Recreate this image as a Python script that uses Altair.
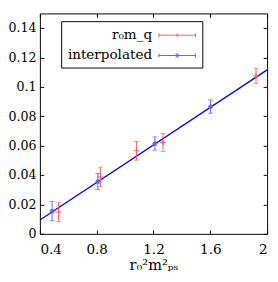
import altair as alt
import pandas as pd

SERIF = "DejaVu Serif"
RED = "#ff5c5c"
BLUE = "#6060ff"
LINE = "#0000ff"

names = ["r₀m_q", "interpolated"]
red_x = [0.531, 0.826, 1.081, 1.267, 1.922]
red_y = [0.0148, 0.0387, 0.0565, 0.0622, 0.1074]
red_err = [0.0064, 0.0067, 0.0063, 0.0061, 0.0051]
blue_x = [0.486, 0.808, 1.21, 1.602]
blue_y = [0.0155, 0.0356, 0.0615, 0.0866]
blue_err = [0.0065, 0.0055, 0.0045, 0.0045]
fit_x = [0.4, 2.0]
fit_y = [0.0095, 0.1116]
x_ticks = [0.4, 0.8, 1.2, 1.6, 2.0]
y_ticks = [0, 0.02, 0.04, 0.06, 0.08, 0.1, 0.12, 0.14]

W, H = 235, 228

red_df = pd.DataFrame({"x": red_x, "y": red_y,
                       "lo": [a - b for a, b in zip(red_y, red_err)],
                       "hi": [a + b for a, b in zip(red_y, red_err)],
                       "series": names[0]})
blue_df = pd.DataFrame({"x": blue_x, "y": blue_y,
                        "lo": [a - b for a, b in zip(blue_y, blue_err)],
                        "hi": [a + b for a, b in zip(blue_y, blue_err)],
                        "series": names[1]})
fit_df = pd.DataFrame({"x": fit_x, "y": fit_y})
all_df = pd.concat([red_df, blue_df], ignore_index=True)

xs = alt.Scale(domain=[0.4, 2.0], nice=False, zero=False)
ys = alt.Scale(domain=[0, 0.15], nice=False, zero=False)

common_tick = dict(labels=False, domain=False, grid=False, ticks=True,
                   tickSize=4, tickColor="black", tickWidth=1, title=None)

label_x = alt.Axis(values=x_ticks, format="~g", ticks=False, domain=False, grid=False,
                   labelFont=SERIF, labelFontSize=14, labelColor="black", labelPadding=9,
                   title="r₀²m²ₚₛ", titleFont=SERIF, titleFontSize=15,
                   titleFontWeight="normal", titleColor="black", titlePadding=2)
label_y = alt.Axis(values=y_ticks, format="~g", ticks=False, domain=False, grid=False,
                   labelFont=SERIF, labelFontSize=13, labelColor="black", labelPadding=4,
                   title=None)
tick_x_bottom = alt.Axis(orient="top", offset=-H, values=x_ticks, **common_tick)
tick_x_top = alt.Axis(orient="bottom", offset=-H, values=x_ticks, **common_tick)
tick_y_left = alt.Axis(orient="right", offset=-W, values=y_ticks, **common_tick)
tick_y_right = alt.Axis(orient="left", offset=-W, values=y_ticks, **common_tick)

fit = alt.Chart(fit_df).mark_line(color=LINE, strokeWidth=1.3).encode(
    x=alt.X("x:Q", scale=xs, axis=label_x),
    y=alt.Y("y:Q", scale=ys, axis=label_y),
)

red_err_layer = alt.Chart(red_df).mark_errorbar(
    color=RED, ticks={"size": 5, "color": RED}, thickness=1
).encode(
    x=alt.X("x:Q", scale=xs, axis=tick_x_bottom),
    y=alt.Y("lo:Q", scale=ys, axis=tick_y_left),
    y2="hi:Q",
)

blue_err_layer = alt.Chart(blue_df).mark_errorbar(
    color=BLUE, ticks={"size": 5, "color": BLUE}, thickness=1
).encode(
    x=alt.X("x:Q", scale=xs, axis=tick_x_top),
    y=alt.Y("lo:Q", scale=ys, axis=tick_y_right),
    y2="hi:Q",
)

plus_path = "M-1,0H1M0,-1V1"
star_path = "M-1,0H1M0,-1V1M-0.7,-0.7L0.7,0.7M-0.7,0.7L0.7,-0.7"

red_pts = alt.Chart(red_df).mark_point(shape=plus_path, size=36, color=RED,
                                       filled=False, strokeWidth=1, opacity=1).encode(
    x=alt.X("x:Q", scale=xs, axis=None),
    y=alt.Y("y:Q", scale=ys, axis=None),
)
blue_pts = alt.Chart(blue_df).mark_point(shape=star_path, size=25, color=BLUE,
                                         filled=False, strokeWidth=1.2, opacity=1).encode(
    x=alt.X("x:Q", scale=xs, axis=None),
    y=alt.Y("y:Q", scale=ys, axis=None),
)

red_leg_path = "M-2.11,0H2.11M-2.11,-0.22V0.22M2.11,-0.22V0.22M0,-0.22V0.22"
blue_leg_path = ("M-2.11,0H2.11M-2.11,-0.22V0.22M2.11,-0.22V0.22"
                 "M-0.25,0H0.25M0,-0.25V0.25M-0.18,-0.18L0.18,0.18M-0.18,0.18L0.18,-0.18")

leg = alt.Legend(title=None, orient="none", legendX=22, legendY=8, direction="vertical",
                 symbolSize=324, symbolStrokeWidth=1, symbolOpacity=1,
                 labelFont=SERIF, labelFontSize=14, labelColor="black",
                 labelAlign="right", labelOffset={"expr": "-35.5"}, symbolOffset=105.5,
                 strokeColor="black", fillColor="white", padding=5, rowPadding=4,
                 labelLimit=300)

legend_layer = alt.Chart(all_df).mark_point(filled=False, opacity=0).encode(
    x=alt.X("x:Q", scale=xs, axis=None),
    y=alt.Y("y:Q", scale=ys, axis=None),
    color=alt.Color("series:N", scale=alt.Scale(domain=names, range=[RED, BLUE]), legend=leg),
    shape=alt.Shape("series:N", scale=alt.Scale(domain=names, range=[red_leg_path, blue_leg_path]),
                    legend=leg),
)

chart = alt.layer(
    fit, red_err_layer, blue_err_layer, red_pts, blue_pts, legend_layer
).resolve_axis(x="independent", y="independent").properties(
    width=W, height=H, padding={"left": 0, "top": 0, "right": 0, "bottom": 0},
    background="white",
).configure_view(stroke="black", strokeWidth=1)

chart.save("out.html", embed_options={"renderer": "svg", "actions": False})
